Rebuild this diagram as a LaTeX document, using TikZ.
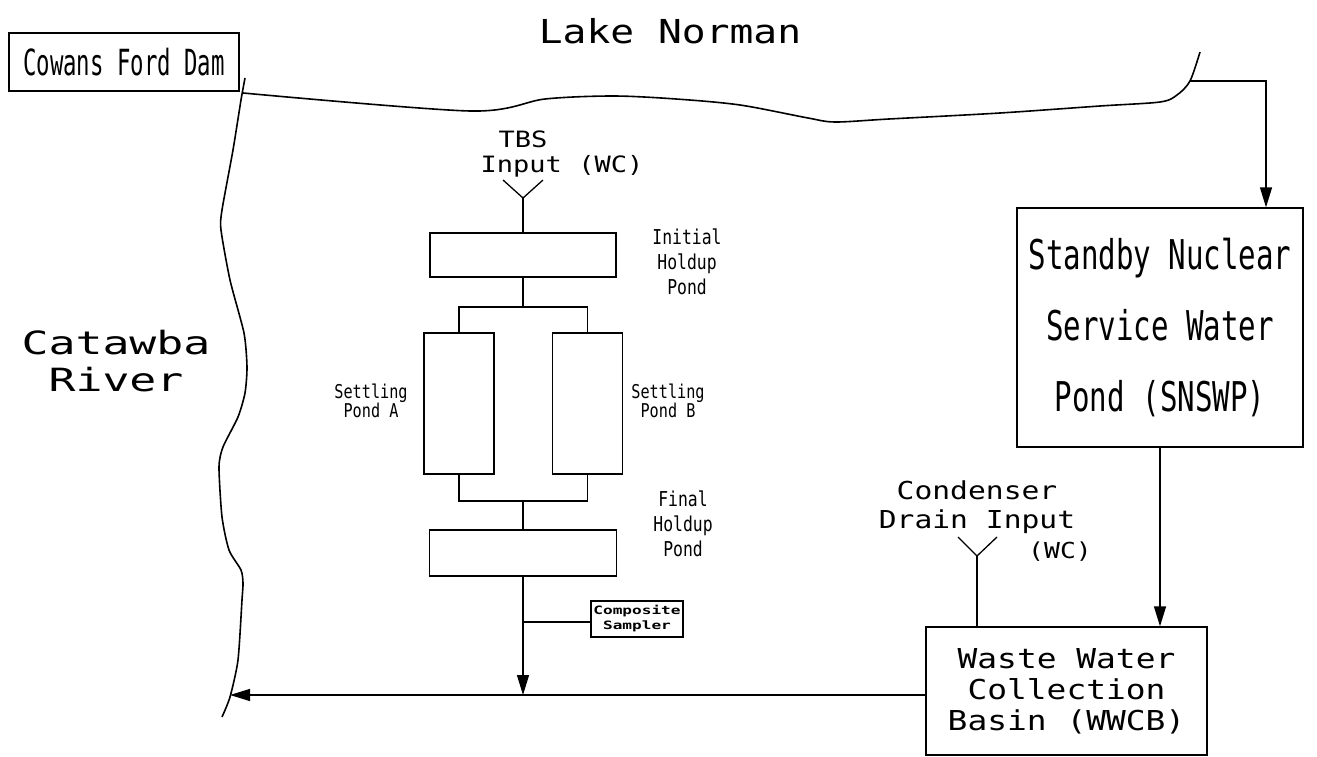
\documentclass[tikz,border=0pt]{standalone}
\usepackage{fontspec}
\newfontfamily\cadwide[FakeStretch=1.2]{DejaVu Sans Mono}
\newfontfamily\cadwider[FakeStretch=1.4]{DejaVu Sans Mono}
\newfontfamily\cadnarrow[FakeStretch=0.8]{DejaVu Sans Mono}
\newfontfamily\cadcond[FakeStretch=0.71]{DejaVu Sans Mono}
\newfontfamily\cadtight[FakeStretch=0.62]{DejaVu Sans Mono}
\usetikzlibrary{arrows.meta,positioning}

\begin{document}
\begin{tikzpicture}[x=1pt,y=-1pt,>={Triangle[length=20pt,width=12pt]},line width=1.3pt,
  pond/.style={draw,inner sep=0pt,align=center},
  txt/.style={inner sep=0pt,align=center}]
\useasboundingbox (0,0) rectangle (1317,757);

% shore lines
\draw[line width=1.6pt] plot[smooth,tension=0.4] coordinates {(245,78) (241,100) (233,150) (222,210) (221,230) (230,280) (244,333) (247,367) (245,393) (238,417) (223,447) (219,467) (222,517) (229,550) (241,570) (243,583) (242,600) (238,660) (230,697) (222,717)};
\draw[line width=1.6pt] plot[smooth,tension=0.5] coordinates {(243,93) (470,111) (545,99) (613,96) (676,99) (740,105) (808,118) (835,122) (889,119) (1000,113) (1100,106) (1160,102) (1177,95) (1190,81) (1200,52)};

\node[txt,anchor=base,font={\cadwide\fontsize{33}{40}\selectfont}] (lake) at (670,44) {Lake Norman};
\node[txt,anchor=north,font={\cadwider\fontsize{32}{37}\selectfont}] (river) at (116,330) {Catawba\\River};

\node[pond,minimum width=230pt,minimum height=58pt,font={\cadtight\fontsize{36}{40}\selectfont}] (dam) at (124,62) {Cowans Ford Dam};

% ponds
\node[pond,minimum width=186pt,minimum height=44pt] (init) at (523,255) {};
\node[pond,minimum width=70pt,minimum height=141pt] (pondA) at (459,403.5) {};
\node[pond,minimum width=70pt,minimum height=141pt] (pondB) at (587.5,403.5) {};
\node[pond,minimum width=187pt,minimum height=46pt] (final) at (523,553) {};
\node[pond,minimum width=92pt,minimum height=36pt,font={\cadwider\bfseries\fontsize{11.5}{15}\selectfont}] (comp) at (637,619) {Composite\\Sampler};

\node[pond,minimum width=286pt,minimum height=239pt,font={\cadcond\fontsize{41}{71}\selectfont}] (snswp) at (1160,327.5) {Standby Nuclear\\Service Water\\Pond (SNSWP)};
\node[pond,minimum width=281pt,minimum height=128pt,font={\cadwide\fontsize{27.4}{31}\selectfont}] (wwcb) at (1066.5,691) {Waste Water\\Collection\\Basin (WWCB)};

% labels
\node[txt,anchor=base,font={\cadwide\fontsize{22.5}{28}\selectfont}] (tbs) at (523,147) {TBS};
\node[txt,anchor=base,font={\cadwide\fontsize{22.5}{28}\selectfont}] (tbsinput) at (562,172) {Input (WC)};
\node[txt,anchor=north,font={\cadnarrow\fontsize{20.5}{25}\selectfont}] (initlbl) at (687,228) {Initial\\Holdup\\Pond};
\node[txt,anchor=north,font={\cadnarrow\fontsize{19}{17}\selectfont}] (settleA) at (371,383) {Settling\\Pond A};
\node[txt,anchor=north,font={\cadnarrow\fontsize{19}{17}\selectfont}] (settleB) at (668,383) {Settling\\Pond B};
\node[txt,anchor=north,font={\cadnarrow\fontsize{20.5}{25}\selectfont}] (finallbl) at (683,490) {Final\\Holdup\\Pond};
\node[txt,anchor=north,font={\cadwide\fontsize{24.7}{29}\selectfont}] (cond) at (977,480) {Condenser\\Drain Input};
\node[txt,anchor=base,font={\cadwide\fontsize{22}{28}\selectfont}] (condwc) at (1060,558) {(WC)};

\coordinate (tbsin) at (523,198);
\coordinate (split) at (523,307);
\coordinate (merge) at (523,501);
\coordinate (tap) at (523,622);
\coordinate (outlet) at (523,695);
\coordinate (riverhit) at (230,695);
\coordinate (lakehit) at (1190,81);
\coordinate (cdin) at (977,556);

% flow path
\draw (tbsin) -- (init.north);
\draw (tbsin) -- ++(-20,-18) (tbsin) -- ++(20,-18);
\draw (init.south) -- (split);
\draw (pondA.north) |- (split) -| (pondB.north);
\draw (pondA.south) |- (merge) -| (pondB.south);
\draw (merge) -- (final.north);
\draw[->] (final.south) -- (outlet);
\draw (tap) -- (comp.west |- tap);
\draw[->] (wwcb.west |- outlet) -- (riverhit);
\draw[->] (lakehit) -| ([xshift=106pt]snswp.north);
\draw[->] (snswp.south) -- (snswp.south |- wwcb.north);
\draw (cdin) -- (cdin |- wwcb.north);
\draw (cdin) -- ++(-19,-19) (cdin) -- ++(20,-19);

\end{tikzpicture}
\end{document}
